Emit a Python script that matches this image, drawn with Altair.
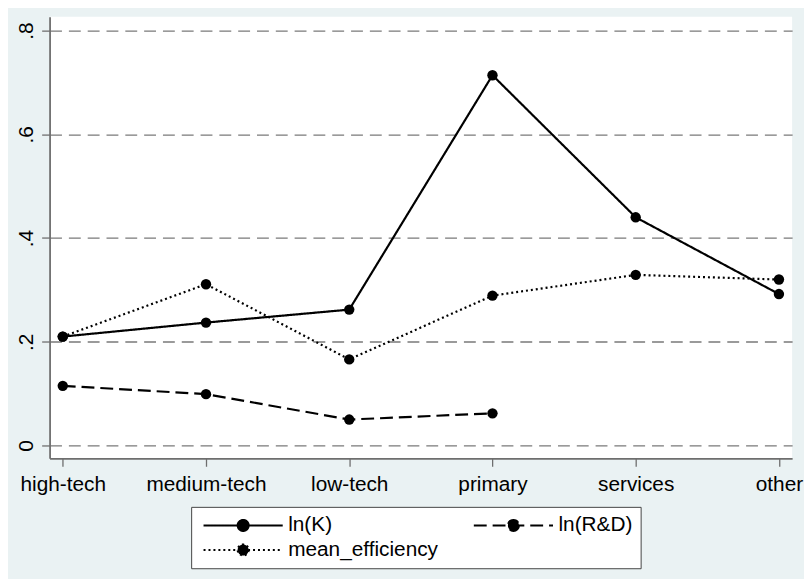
import altair as alt
import pandas as pd

categories = ["high-tech", "medium-tech", "low-tech", "primary", "services", "other"]
series_names = ["ln(K)", "ln(R&D)", "mean_efficiency"]

ln_k = [0.210, 0.237, 0.262, 0.714, 0.440, 0.292]
ln_rd = [0.115, 0.099, 0.050, 0.062]
mean_eff = [0.210, 0.311, 0.166, 0.289, 0.329, 0.320]

rows = []
for s, vals in zip(series_names, [ln_k, ln_rd, mean_eff]):
    for c, v in zip(categories, vals):
        rows.append({"category": c, "series": s, "value": v})
df = pd.DataFrame(rows)

FONT = "Liberation Sans"
GRAY = "#6e6e6e"

# legend symbol: line of 80px with a filled dot in the middle (unit = 6px)
sym_path = ("M-1,0L12.33,0M6.6,0A0.93,0.93,0,1,1,4.74,0"
            "A0.93,0.93,0,1,1,6.6,0Z")

x = alt.X("category:N", sort=categories,
          scale=alt.Scale(type="point", padding=0.092),
          axis=alt.Axis(title=None, grid=False, labelAngle=0,
                        labelFontSize=21, labelFont=FONT, labelColor="black",
                        labelBaseline="alphabetic", labelPadding=24,
                        tickSize=8, tickColor=GRAY, tickWidth=1.3,
                        domainColor=GRAY, domainWidth=1.6))
y = alt.Y("value:Q",
          scale=alt.Scale(domain=[-0.0248, 0.8267], nice=False, zero=False),
          axis=alt.Axis(title=None, values=[0, 0.2, 0.4, 0.6, 0.8],
                        labelExpr="datum.value == 0 ? '0' : substring(format(datum.value, '.1f'), 1)",
                        labelAngle=270, labelAlign="center", labelBaseline="alphabetic",
                        labelPadding=9, labelFontSize=21, labelFont=FONT, labelColor="black",
                        tickSize=8, tickColor=GRAY, tickWidth=1.3,
                        domainColor=GRAY, domainWidth=1.8,
                        grid=True, gridColor="#7a7a7a", gridWidth=1.3, gridDash=[12, 7]))

dash_scale = alt.Scale(domain=series_names, range=[[1, 0], [13, 6], [2, 3]])

lines = alt.Chart(df).mark_line(color="black", strokeWidth=2.2).encode(
    x=x, y=y,
    strokeDash=alt.StrokeDash("series:N", scale=dash_scale,
                              legend=alt.Legend(title=None, orient="none",
                                                legendX=143, legendY=495,
                                                direction="horizontal",
                                                columns=2, columnPadding=31,
                                                rowPadding=3, padding=8,
                                                fillColor="white", strokeColor="#444",
                                                symbolType=sym_path, symbolSize=144,
                                                symbolStrokeWidth=2, symbolStrokeColor="black",
                                                symbolFillColor="black",
                                                labelFontSize=21, labelFont=FONT,
                                                labelColor="black", labelOffset=69)),
    detail="series:N",
)
points = alt.Chart(df).mark_circle(color="black", size=110, opacity=1).encode(x=x, y=y)

chart = (lines + points).properties(
    width=750, height=446,
    autosize=alt.AutoSizeParams(type="none"),
    padding={"left": 42, "top": 6, "right": 12, "bottom": 119},
    background="#eaf2f3",
).configure_view(fill="white", stroke=None)

chart.save("out.html", embed_options={"renderer": "svg", "actions": False})
